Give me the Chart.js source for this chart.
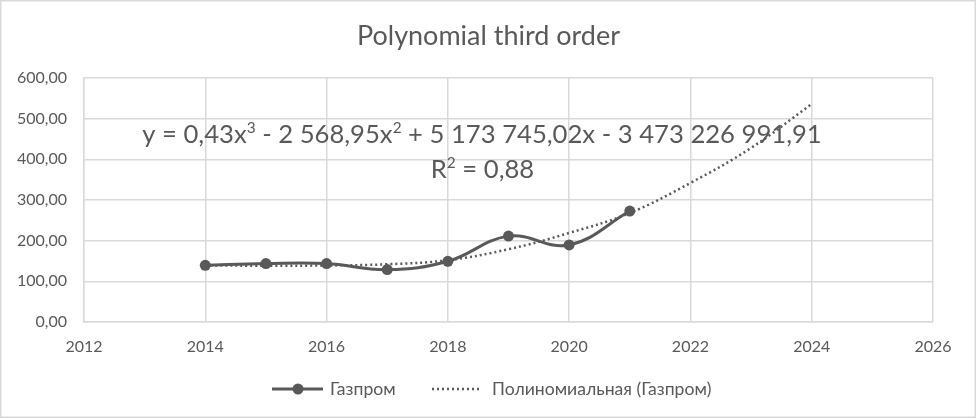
<!DOCTYPE html>
<html>
<head>
<meta charset="utf-8">
<script src="https://cdn.jsdelivr.net/npm/chart.js@4.4.1/dist/chart.umd.min.js"></script>
<style>
  html, body { margin: 0; padding: 0; background: #fff; }
  #wrap { width: 976px; height: 419px; }
</style>
</head>
<body>
<div id="wrap"><canvas id="chart" width="976" height="419"></canvas></div>
<script>
// values
const years = [2014, 2015, 2016, 2017, 2018, 2019, 2020, 2021];
const gazprom = [139.4, 143.6, 143.6, 128.8, 149.3, 211.2, 189.5, 272.9];
const trendYears = [2014, 2015, 2016, 2017, 2018, 2019, 2020, 2021, 2022, 2023, 2024];
const trendValues = [139, 138.5, 139, 142, 152, 179, 219, 268, 342, 428, 536];
const xTicks = [2012, 2014, 2016, 2018, 2020, 2022, 2024, 2026];
const yTicks = [0, 100, 200, 300, 400, 500, 600];

const titleText = 'Polynomial third order';
const seriesName = 'Газпром';
const trendName = 'Полиномиальная (Газпром)';
const equationParts = [['y = 0,43x', false], ['3', true], [' - 2 568,95x', false], ['2', true], [' + 5 173 745,02x - 3 473 226 991,91', false]];
const r2Parts = [['R', false], ['2', true], [' = 0,88', false]];

const FONT = 'Lato, "Open Sans", sans-serif';
const TEXT = '#595959';
const GRID = '#d9d9d9';

function partsWidth(ctx, parts, size) {
  return parts.map(([t, sup]) => {
    ctx.font = `${sup ? size * 0.6 : size}px ${FONT}`;
    return ctx.measureText(t).width;
  });
}

function drawRich(ctx, parts, cx, baseline, size) {
  const w = partsWidth(ctx, parts, size);
  let x = cx - w.reduce((a, b) => a + b, 0) / 2;
  ctx.textAlign = 'left';
  ctx.textBaseline = 'alphabetic';
  parts.forEach(([t, sup], i) => {
    ctx.font = `${sup ? size * 0.6 : size}px ${FONT}`;
    ctx.fillText(t, x, sup ? baseline - size * 0.38 : baseline);
    x += w[i];
  });
}

function fitSize(ctx, parts, target) {
  const w = partsWidth(ctx, parts, 100).reduce((a, b) => a + b, 0);
  return 100 * target / w;
}

const overlay = {
  id: 'overlay',
  beforeDraw(chart) {
    const ctx = chart.ctx;
    ctx.save();
    ctx.fillStyle = '#fff';
    ctx.fillRect(0, 0, chart.width, chart.height);
    ctx.strokeStyle = GRID;
    ctx.lineWidth = 1.5;
    ctx.strokeRect(0.75, 0.75, chart.width - 1.5, chart.height - 2.5);
    ctx.restore();
  },
  afterDraw(chart) {
    const ctx = chart.ctx;
    ctx.save();
    ctx.fillStyle = TEXT;

    // title
    const tSize = fitSize(ctx, [[titleText, false]], 263);
    drawRich(ctx, [[titleText, false]], 488.5, 45, tSize);

    // trendline label
    const eSize = fitSize(ctx, equationParts, 680);
    drawRich(ctx, equationParts, 482, 143, eSize);
    drawRich(ctx, r2Parts, 482.5, 178, eSize);

    // legend
    const ly = 389;
    ctx.strokeStyle = TEXT;
    ctx.lineWidth = 3;
    ctx.beginPath();
    ctx.moveTo(272, ly);
    ctx.lineTo(323, ly);
    ctx.stroke();
    ctx.beginPath();
    ctx.arc(298, ly, 5.5, 0, Math.PI * 2);
    ctx.fill();
    ctx.lineWidth = 2.5;
    ctx.setLineDash([2, 3]);
    ctx.beginPath();
    ctx.moveTo(432, ly);
    ctx.lineTo(481, ly);
    ctx.stroke();
    ctx.setLineDash([]);
    ctx.font = `17.6px ${FONT}`;
    ctx.textBaseline = 'middle';
    ctx.textAlign = 'left';
    ctx.fillText(seriesName, 330, ly);
    ctx.fillText(trendName, 492, ly);
    ctx.restore();
  }
};

new Chart(document.getElementById('chart'), {
  type: 'line',
  data: {
    datasets: [
      {
        label: seriesName,
        data: years.map((y, i) => ({ x: y, y: gazprom[i] })),
        borderColor: TEXT,
        backgroundColor: TEXT,
        borderWidth: 3,
        pointRadius: 5.5,
        pointHoverRadius: 5.5,
        pointBackgroundColor: TEXT,
        pointBorderWidth: 0,
        tension: 0.4,
        fill: false
      },
      {
        label: trendName,
        data: trendYears.map((y, i) => ({ x: y, y: trendValues[i] })),
        borderColor: TEXT,
        borderWidth: 2.5,
        borderDash: [2, 3],
        pointRadius: 0,
        tension: 0.4,
        fill: false
      }
    ]
  },
  options: {
    responsive: false,
    animation: false,
    layout: { padding: { top: 78, right: 43, bottom: 0, left: 0 } },
    plugins: {
      legend: { display: false },
      title: { display: false },
      tooltip: { enabled: false }
    },
    scales: {
      x: {
        type: 'linear',
        min: xTicks[0],
        max: xTicks[xTicks.length - 1],
        afterBuildTicks(scale) { scale.ticks = xTicks.map(v => ({ value: v })); },
        afterFit(scale) { scale.height = 97; },
        grid: { color: GRID, lineWidth: 1.5, drawTicks: false },
        border: { color: GRID, width: 1.5 },
        ticks: {
          padding: 15,
          color: TEXT,
          font: { family: FONT, size: 16 },
          callback: v => String(v)
        }
      },
      y: {
        min: yTicks[0],
        max: yTicks[yTicks.length - 1],
        afterBuildTicks(scale) { scale.ticks = yTicks.map(v => ({ value: v })); },
        afterFit(scale) { scale.width = 84; },
        grid: { color: GRID, lineWidth: 1.5, drawTicks: false },
        border: { color: GRID, width: 1.5 },
        ticks: {
          padding: 17,
          color: TEXT,
          font: { family: FONT, size: 16 },
          callback: v => v.toFixed(2).replace('.', ',')
        }
      }
    }
  },
  plugins: [overlay]
});
</script>
</body>
</html>
